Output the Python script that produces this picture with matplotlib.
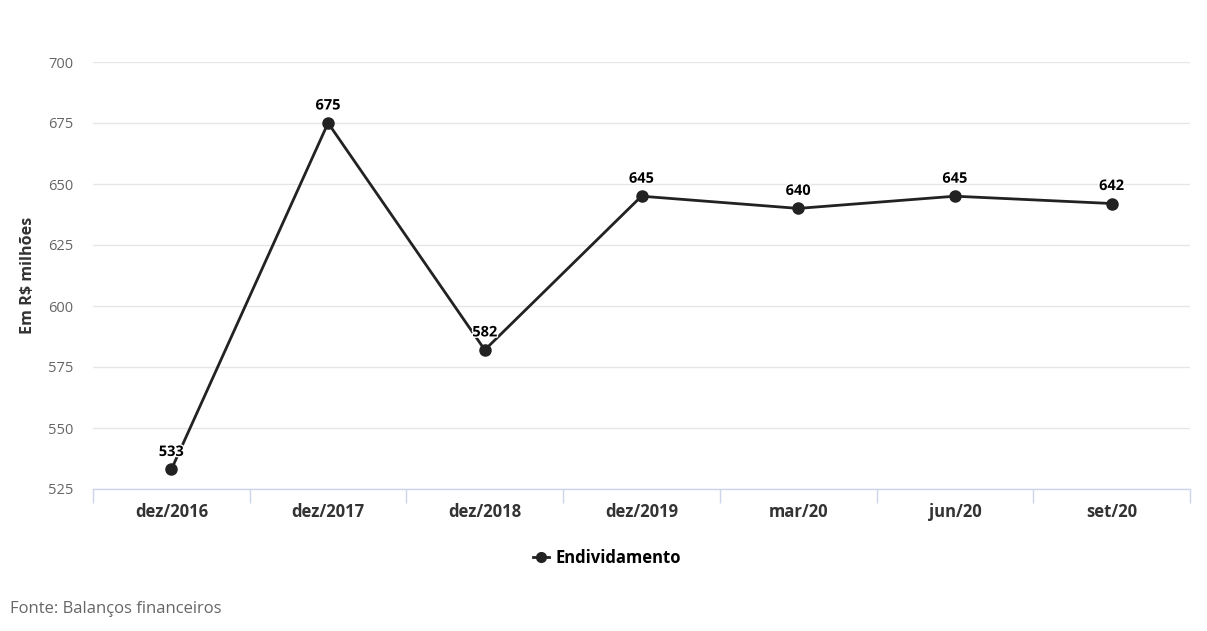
import matplotlib
matplotlib.use("Agg")
import matplotlib.pyplot as plt
import matplotlib.patheffects as pe
from matplotlib.lines import Line2D

plt.rcParams['font.family'] = ['Open Sans', 'DejaVu Sans']

categories = ['dez/2016', 'dez/2017', 'dez/2018', 'dez/2019', 'mar/20', 'jun/20', 'set/20']
endividamento = [533, 675, 582, 645, 640, 645, 642]
y_ticks = [525, 550, 575, 600, 625, 650, 675, 700]

fig = plt.figure(figsize=(12.07, 6.31), dpi=100)
ax = fig.add_axes([93/1207, 1 - 489/631, (1190 - 93)/1207, (489 - 62)/631])

x = list(range(len(categories)))
ax.plot(x, endividamento, color='#222222', linewidth=2, marker='o', markersize=8,
        zorder=3, clip_on=False)

for xi, v in zip(x, endividamento):
    ax.annotate(str(v), (xi, v), xytext=(0, 12.6), textcoords='offset points',
                ha='center', va='center', fontsize=10.5, fontweight='bold', color='#000000',
                zorder=4, path_effects=[pe.withStroke(linewidth=2, foreground='white')])

ax.set_xlim(-0.5, len(categories) - 0.5)
ax.set_ylim(525, 700)
ax.set_yticks(y_ticks)
ax.set_xticks(x)
ax.set_xticklabels(categories, fontsize=12, fontweight='bold', color='#333333')
ax.tick_params(axis='x', length=0, pad=10)
ax.set_xticks([i - 0.5 for i in range(len(categories) + 1)], minor=True)
ax.tick_params(axis='x', which='minor', length=10, width=1, color='#ccd6eb')
ax.tick_params(axis='y', length=0, pad=14, labelsize=10.5, labelcolor='#666666')
ax.grid(axis='y', color='#e6e6e6', linewidth=1)
ax.set_axisbelow(True)
for s in ['top', 'right', 'left']:
    ax.spines[s].set_visible(False)
ax.spines['bottom'].set_color('#ccd6eb')
ax.spines['bottom'].set_linewidth(1)

ax.set_ylabel('Em R$ milhões', fontsize=11.6, fontweight='bold', color='#333333')
ax.yaxis.set_label_coords(-57/1097, 0.5)

handle = Line2D([], [], color='#222222', linewidth=2, marker='o', markersize=7)
fig.legend([handle], ['Endividamento'], loc='center', bbox_to_anchor=(607/1207, 1 - 558/631),
           frameon=False, prop={'weight': 'bold', 'size': 12}, handlelength=1.0,
           handletextpad=0.4)

fig.text(10/1207, 1 - 609/631, 'Fonte: Balanços financeiros', fontsize=12, color='#666666',
         va='center', ha='left')

fig.savefig('out.png', dpi=100, facecolor='white')
